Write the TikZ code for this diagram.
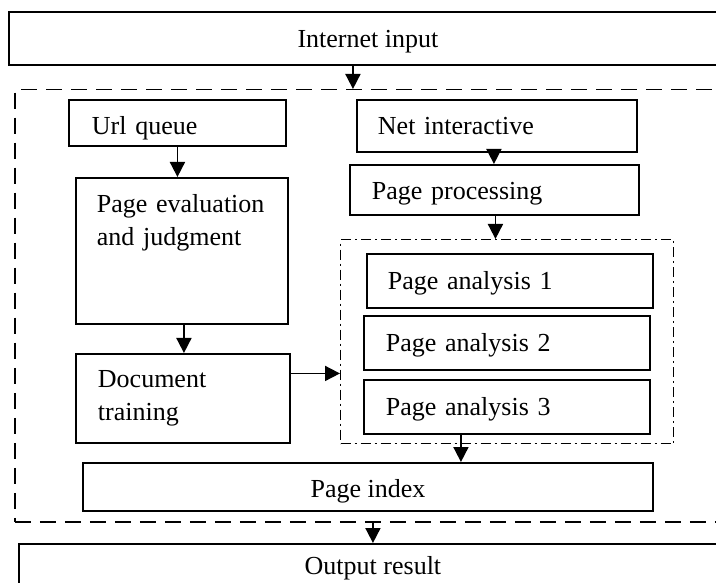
\documentclass[tikz,border=0pt]{standalone}
\usepackage{fontspec}
\setmainfont{Liberation Serif}
\usetikzlibrary{positioning}
\usetikzlibrary{arrows.meta}

\begin{document}
\begin{tikzpicture}[
        x=1pt, y=-1pt,
        box/.style={rectangle, draw, line width=1.9pt, anchor=north west, inner ysep=0pt, align=left, font=\fontsize{26}{33}\selectfont},
        wide/.style={box, align=center, inner xsep=0pt},
        frame/.style={rectangle, draw, line width=1.5pt, dash pattern=on 16pt off 9pt, anchor=north west},
        group/.style={rectangle, draw, line width=1.3pt, dash pattern=on 10pt off 4pt on 2pt off 4pt, anchor=north west},
        arr/.style={-{Triangle[width=15pt,length=15pt]}, line width=1.8pt}
    ]
        \useasboundingbox (0,0) rectangle (716,583);
        \clip (0,0) rectangle (716,583);

        \node[wide, minimum width=718pt, text height=36pt, text depth=17pt](inp) at (8,11) {Internet input};
        \node[frame, minimum width=720pt, minimum height=432pt](outer) at (14,89) {};

        % left column
        \node[box, inner xsep=23pt, text width=171pt, text height=35pt, text depth=11pt](url) at (68,99) {Url queue};
        \node[box, inner xsep=21pt, text width=170pt, text height=35pt, text depth=111pt](eval) at (75,177) {\mbox{Page evaluation}\\and judgment};
        \node[box, inner xsep=22pt, text width=170pt, text height=34pt, text depth=55pt](doc) at (75,353) {Document\\training};

        % right column
        \node[box, inner xsep=21pt, text width=238pt, text height=35pt, text depth=17pt](net) at (356,99) {Net interactive};
        \node[box, inner xsep=22pt, text width=245pt, text height=35pt, text depth=15pt](proc) at (349,164) {Page processing};
        \node[group, minimum width=333pt, minimum height=204pt](grp) at (340,239) {};
            \node[box, inner xsep=21pt, text width=244pt, text height=36pt, text depth=18pt](pa1) at (366,253) {Page analysis 1};
            \node[box, inner xsep=22pt, text width=242pt, text height=36pt, text depth=18pt](pa2) at (363,315) {Page analysis 2};
            \node[box, inner xsep=22pt, text width=242pt, text height=36pt, text depth=18pt, below=8pt of pa2](pa3) {Page analysis 3};

        \node[wide, minimum width=570pt, text height=35pt, text depth=13pt](idx) at (82,462) {Page index};
        \node[wide, minimum width=708pt, text height=31pt, text depth=40pt](out) at (18,543) {Output result};

        \coordinate (d1) at ([yshift=25pt]doc.east);

        \draw[arr] ([xshift=-15pt]inp.south) -- ([xshift=-15pt]inp.south |- outer.north);
        \draw[arr] (url.south) -- (url.south |- eval.north);
        \draw[arr] ([xshift=2pt]eval.south) -- ([xshift=2pt]eval.south |- doc.north);
        \draw[arr] (d1) -- (d1 -| grp.west);
        \draw[arr] ([xshift=-3pt]net.south) -- ([xshift=-3pt]net.south |- proc.north);
        \draw[arr] ([xshift=1pt]proc.south) -- ([xshift=1pt]proc.south |- grp.north);
        \draw[arr] ([xshift=-46pt]pa3.south) -- ([xshift=-46pt]pa3.south |- idx.north);
        \draw[arr] (outer.south -| out.north) -- (out.north);
    \end{tikzpicture}
\end{document}
